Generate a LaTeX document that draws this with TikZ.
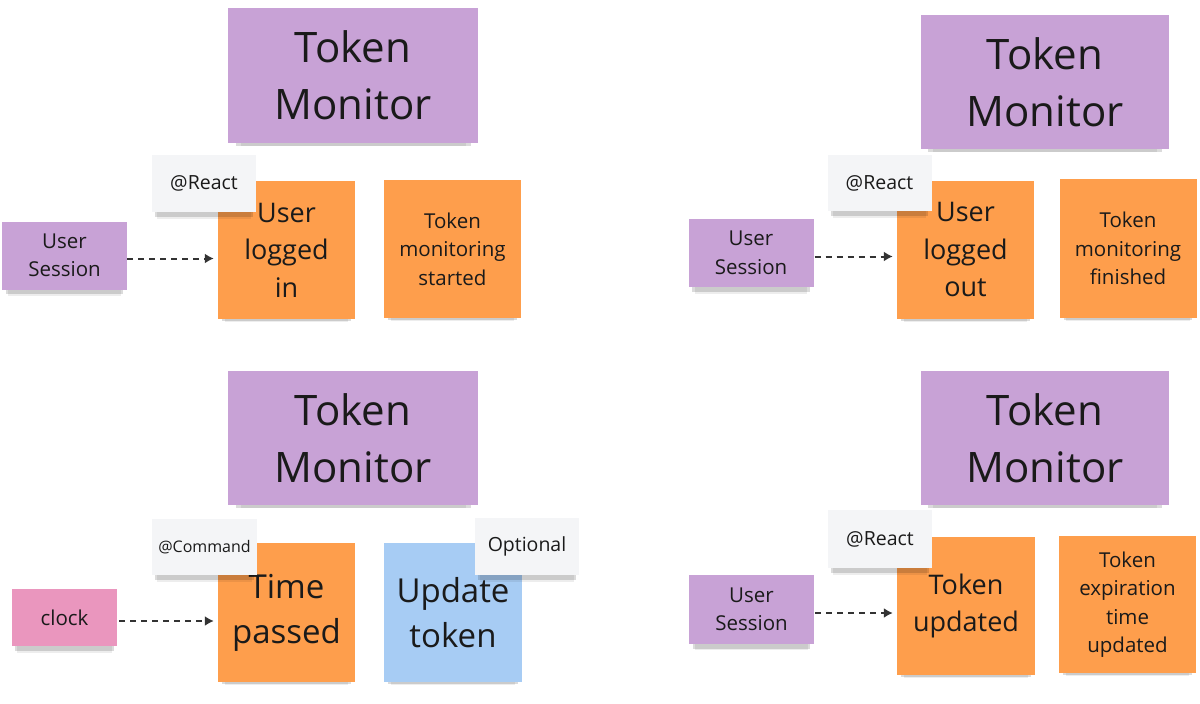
\documentclass[tikz,border=0pt]{standalone}
\usepackage{fontspec}
\setmainfont{Open Sans}
\usetikzlibrary{arrows.meta}
\usetikzlibrary{shadows}

\definecolor{aggr}{RGB}{200,162,214}
\definecolor{evt}{RGB}{254,158,76}
\definecolor{cmd}{RGB}{167,204,244}
\definecolor{ext}{RGB}{234,150,190}
\definecolor{note}{RGB}{244,245,247}
\definecolor{ink}{RGB}{26,26,26}
\definecolor{wire}{RGB}{51,51,51}

\begin{document}
\begin{tikzpicture}[x=1pt, y=-1pt,
    sticky/.style={draw=none, inner sep=0pt, align=center, text=ink,
      drop shadow={shadow xshift=0pt, shadow yshift=-11pt, shadow scale=0.9, opacity=0.07, fill=black},
      drop shadow={shadow xshift=0pt, shadow yshift=-7pt, shadow scale=0.94, opacity=0.14, fill=black}},
    agg/.style={sticky, fill=aggr, minimum width=250pt, minimum height=135pt, font=\fontsize{42}{57}\selectfont},
    ev/.style={sticky, fill=evt, minimum width=137pt, minimum height=138pt},
    actor/.style={sticky, fill=aggr, minimum width=125pt, minimum height=68pt, font=\fontsize{20.5}{28.5}\selectfont},
    tag/.style={sticky, fill=note, minimum width=104pt, minimum height=57pt, font=\fontsize{19.5}{24}\selectfont},
    mid/.style={font=\fontsize{27}{37.5}\selectfont},
    big/.style={font=\fontsize{33}{45}\selectfont},
    small/.style={font=\fontsize{20.5}{28.5}\selectfont},
    flow/.style={draw=wire, line width=2pt, dash pattern=on 6pt off 5pt, -{Latex[length=9pt, width=10pt]}}]

    \fill[white] (0,0) rectangle (1200,704);
    \useasboundingbox (0,0) rectangle (1200,704);

    % top left: user logged in
    \node[agg] (tm1) at (353,75.5) {Token\\Monitor};
    \node[actor] (us1) at (64.5,255.5) {User\\Session};
    \node[ev, mid] (login) at (286.5,250) {User\\logged\\in};
    \node[ev, small] (start) at (452.5,249) {Token\\monitoring\\started};
    \node[tag] (react1) at (204,183.5) {@React};
    \draw[flow, shorten >=4pt, transform canvas={yshift=-3pt}] (us1.east) -- (us1.east -| login.west);

    % top right: user logged out
    \node[agg, minimum width=248pt, minimum height=134pt] (tm2) at (1045,82) {Token\\Monitor};
    \node[actor] (us2) at (751,253) {User\\Session};
    \node[ev, mid] (logout) at (965.5,249.5) {User\\logged\\out};
    \node[ev, small, minimum height=139pt] (finish) at (1128,248.5) {Token\\monitoring\\finished};
    \node[tag, minimum height=56pt] (react2) at (879.5,183) {@React};
    \draw[flow, shorten >=4pt, shorten <=1pt, transform canvas={yshift=-3.5pt}] (us2.east) -- (us2.east -| logout.west);

    % bottom left: time passed
    \node[agg, minimum height=134pt] (tm3) at (353,438) {Token\\Monitor};
    \node[sticky, fill=ext, minimum width=105pt, minimum height=57pt, font=\fontsize{20.5}{28.5}\selectfont] (clock) at (64.5,617.5) {clock};
    \node[ev, big, minimum height=139pt] (passed) at (286.5,612.5) {Time\\passed};
    \node[sticky, fill=cmd, big, minimum width=138pt, minimum height=139pt] (update) at (453,612.5) {Update\\token};
    \node[tag, minimum width=105pt, minimum height=56pt, font=\fontsize{16}{20}\selectfont] (command) at (204.5,547) {@Command};
    \node[tag] (opt) at (527,546.5) {Optional};
    \draw[flow, shorten >=4pt, shorten <=2pt, transform canvas={yshift=-3.5pt}] (clock.east) -- (clock.east -| passed.west);

    % bottom right: token updated
    \node[agg, minimum width=248pt, minimum height=134pt] (tm4) at (1045,438) {Token\\Monitor};
    \node[actor, minimum height=69pt] (us4) at (751.5,609.5) {User\\Session};
    \node[ev, mid, minimum width=138pt] (tokupd) at (966,606) {Token\\updated};
    \node[ev, small, minimum height=137pt] (expiry) at (1127.5,604.5) {Token\\expiration\\time\\updated};
    \node[tag, minimum height=58pt] (react4) at (880,539) {@React};
    \draw[flow, shorten >=4pt, shorten <=1pt, transform canvas={yshift=-3.5pt}] (us4.east) -- (us4.east -| tokupd.west);
\end{tikzpicture}
\end{document}
